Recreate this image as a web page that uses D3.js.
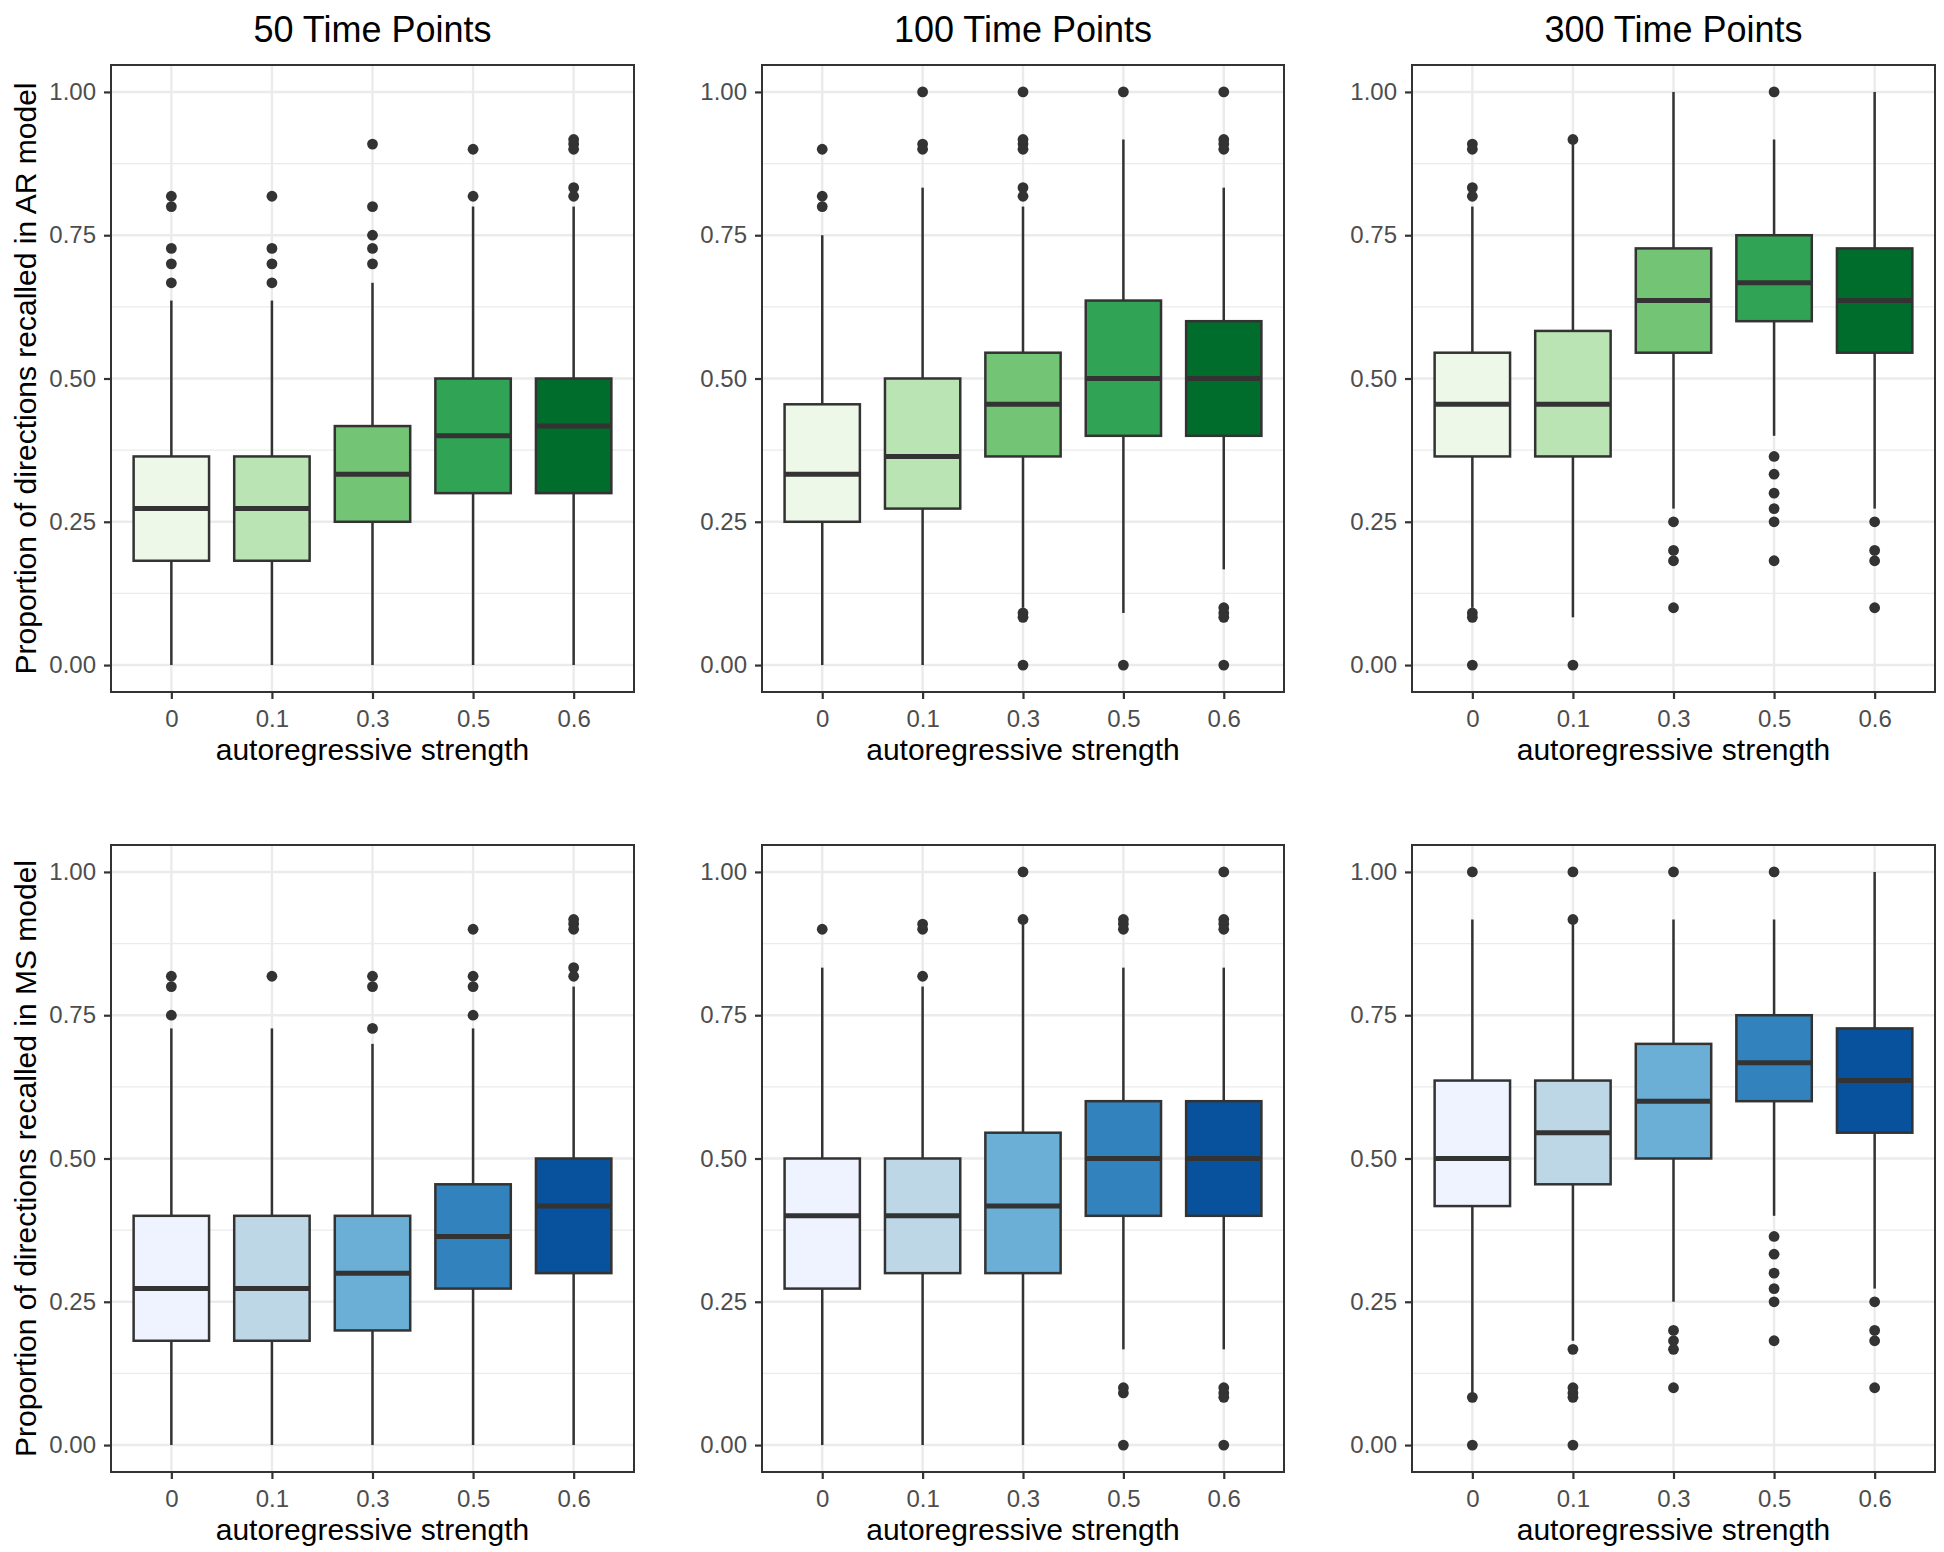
<!DOCTYPE html>
<html>
<head>
<meta charset="utf-8">
<script src="https://cdn.jsdelivr.net/npm/d3@7"></script>
<style>
  html, body { margin: 0; padding: 0; background: #ffffff; }
  svg { display: block; font-family: "Liberation Sans", Arial, sans-serif; }
</style>
</head>
<body>
<svg id="chart" width="1944" height="1552"></svg>
<script>
// ---------------- DATA ----------------
const categories = ["0", "0.1", "0.3", "0.5", "0.6"];
const columnTitles = ["50 Time Points", "100 Time Points", "300 Time Points"];
const rowYTitles = ["Proportion of directions recalled in AR model", "Proportion of directions recalled in MS model"];
const xAxisTitle = "autoregressive strength";
const yTicks = [0, 0.25, 0.5, 0.75, 1];
const yTickLabels = ["0.00", "0.25", "0.50", "0.75", "1.00"];
const yMinorTicks = [0.125, 0.375, 0.625, 0.875];
const greens = ["#EDF8E9", "#BAE4B3", "#74C476", "#31A354", "#006D2C"];
const blues = ["#EFF3FF", "#BDD7E7", "#6BAED6", "#3182BD", "#08519C"];

// each box: [lower whisker, Q1, median, Q3, upper whisker]
const ar50Stats = [
  [0, 0.182, 0.273, 0.364, 0.636],
  [0, 0.182, 0.273, 0.364, 0.636],
  [0, 0.25, 0.333, 0.417, 0.667],
  [0, 0.3, 0.4, 0.5, 0.8],
  [0, 0.3, 0.417, 0.5, 0.8]
];
const ar50Outliers = [
  [0.667, 0.7, 0.727, 0.8, 0.818],
  [0.667, 0.7, 0.727, 0.818],
  [0.7, 0.727, 0.75, 0.8, 0.909],
  [0.818, 0.9],
  [0.818, 0.833, 0.9, 0.909, 0.917]
];
const ar100Stats = [
  [0, 0.25, 0.333, 0.455, 0.75],
  [0, 0.273, 0.364, 0.5, 0.833],
  [0.1, 0.364, 0.455, 0.545, 0.8],
  [0.0909, 0.4, 0.5, 0.636, 0.917],
  [0.167, 0.4, 0.5, 0.6, 0.833]
];
const ar100Outliers = [
  [0.8, 0.818, 0.9],
  [0.9, 0.909, 1.0],
  [0, 0.0833, 0.0909, 0.818, 0.833, 0.9, 0.909, 0.917, 1.0],
  [0, 1.0],
  [0, 0.0833, 0.0909, 0.1, 0.9, 0.909, 0.917, 1.0]
];
const ar300Stats = [
  [0.1, 0.364, 0.455, 0.545, 0.8],
  [0.0833, 0.364, 0.455, 0.583, 0.909],
  [0.273, 0.545, 0.636, 0.727, 1.0],
  [0.4, 0.6, 0.667, 0.75, 0.917],
  [0.273, 0.545, 0.636, 0.727, 1.0]
];
const ar300Outliers = [
  [0, 0.0833, 0.0909, 0.818, 0.833, 0.9, 0.909],
  [0, 0.917],
  [0.1, 0.182, 0.2, 0.25],
  [0.182, 0.25, 0.273, 0.3, 0.333, 0.364, 1.0],
  [0.1, 0.182, 0.2, 0.25]
];
const ms50Stats = [
  [0, 0.182, 0.273, 0.4, 0.727],
  [0, 0.182, 0.273, 0.4, 0.727],
  [0, 0.2, 0.3, 0.4, 0.7],
  [0, 0.273, 0.364, 0.455, 0.727],
  [0, 0.3, 0.417, 0.5, 0.8]
];
const ms50Outliers = [
  [0.75, 0.8, 0.818],
  [0.818],
  [0.727, 0.8, 0.818],
  [0.75, 0.8, 0.818, 0.9],
  [0.818, 0.833, 0.9, 0.909, 0.917]
];
const ms100Stats = [
  [0, 0.273, 0.4, 0.5, 0.833],
  [0, 0.3, 0.4, 0.5, 0.8],
  [0, 0.3, 0.417, 0.545, 0.909],
  [0.167, 0.4, 0.5, 0.6, 0.833],
  [0.167, 0.4, 0.5, 0.6, 0.833]
];
const ms100Outliers = [
  [0.9],
  [0.818, 0.9, 0.909],
  [0.917, 1.0],
  [0, 0.0909, 0.1, 0.9, 0.909, 0.917],
  [0, 0.0833, 0.0909, 0.1, 0.9, 0.909, 0.917, 1.0]
];
const ms300Stats = [
  [0.0909, 0.417, 0.5, 0.636, 0.917],
  [0.182, 0.455, 0.545, 0.636, 0.909],
  [0.25, 0.5, 0.6, 0.7, 0.917],
  [0.4, 0.6, 0.667, 0.75, 0.917],
  [0.273, 0.545, 0.636, 0.727, 1.0]
];
const ms300Outliers = [
  [0, 0.0833, 1.0],
  [0, 0.0833, 0.0909, 0.1, 0.167, 0.917, 1.0],
  [0.1, 0.167, 0.182, 0.2, 1.0],
  [0.182, 0.25, 0.273, 0.3, 0.333, 0.364, 1.0],
  [0.1, 0.182, 0.2, 0.25]
];

// ---------------- LAYOUT ----------------
const colExtents = [[111, 634], [762, 1284], [1412, 1935]];
const rowExtents = [[65, 692], [845, 1472]];

const panels = [
  { row: 0, col: 0, stats: ar50Stats, outliers: ar50Outliers, fills: greens },
  { row: 0, col: 1, stats: ar100Stats, outliers: ar100Outliers, fills: greens },
  { row: 0, col: 2, stats: ar300Stats, outliers: ar300Outliers, fills: greens },
  { row: 1, col: 0, stats: ms50Stats, outliers: ms50Outliers, fills: blues },
  { row: 1, col: 1, stats: ms100Stats, outliers: ms100Outliers, fills: blues },
  { row: 1, col: 2, stats: ms300Stats, outliers: ms300Outliers, fills: blues }
];

const svg = d3.select("#chart");
const dark = "#333333";
const gridCol = "#EBEBEB";
const tickCol = "#4D4D4D";
const fontFam = "Liberation Sans, Arial, sans-serif";

panels.forEach(p => {
  const [x0, x1] = colExtents[p.col];
  const [y0, y1] = rowExtents[p.row];
  const x = d3.scalePoint().domain(categories).range([x0, x1]).padding(0.6);
  const y = d3.scaleLinear().domain([-0.047, 1.047]).range([y1, y0]);
  const bw = x.step() * 0.75;
  const g = svg.append("g");

  g.append("rect").attr("x", x0).attr("y", y0).attr("width", x1 - x0).attr("height", y1 - y0)
    .attr("fill", "#ffffff");

  // minor grid
  g.selectAll(".minor").data(yMinorTicks).join("line")
    .attr("x1", x0).attr("x2", x1).attr("y1", d => y(d)).attr("y2", d => y(d))
    .attr("stroke", gridCol).attr("stroke-width", 1.2);
  // major grid
  g.selectAll(".majorY").data(yTicks).join("line")
    .attr("x1", x0).attr("x2", x1).attr("y1", d => y(d)).attr("y2", d => y(d))
    .attr("stroke", gridCol).attr("stroke-width", 2.4);
  g.selectAll(".majorX").data(categories).join("line")
    .attr("x1", d => x(d)).attr("x2", d => x(d)).attr("y1", y0).attr("y2", y1)
    .attr("stroke", gridCol).attr("stroke-width", 2.4);

  // boxplots
  categories.forEach((c, i) => {
    const [lo, q1, med, q3, hi] = p.stats[i];
    const cx = x(c);
    const bx = g.append("g");
    bx.append("line").attr("x1", cx).attr("x2", cx).attr("y1", y(q3)).attr("y2", y(hi))
      .attr("stroke", dark).attr("stroke-width", 2.5);
    bx.append("line").attr("x1", cx).attr("x2", cx).attr("y1", y(q1)).attr("y2", y(lo))
      .attr("stroke", dark).attr("stroke-width", 2.5);
    bx.append("rect").attr("x", cx - bw / 2).attr("y", y(q3)).attr("width", bw)
      .attr("height", y(q1) - y(q3)).attr("fill", p.fills[i])
      .attr("stroke", dark).attr("stroke-width", 2.5);
    bx.append("line").attr("x1", cx - bw / 2).attr("x2", cx + bw / 2)
      .attr("y1", y(med)).attr("y2", y(med))
      .attr("stroke", dark).attr("stroke-width", 5);
    bx.selectAll("circle").data(p.outliers[i]).join("circle")
      .attr("cx", cx).attr("cy", d => y(d)).attr("r", 5.4).attr("fill", dark);
  });

  // panel border
  g.append("rect").attr("x", x0).attr("y", y0).attr("width", x1 - x0).attr("height", y1 - y0)
    .attr("fill", "none").attr("stroke", dark).attr("stroke-width", 2);

  // y axis
  const yAxis = d3.axisLeft(y).tickValues(yTicks)
    .tickFormat((d, i) => yTickLabels[i]).tickSize(7).tickPadding(8);
  const ya = svg.append("g").attr("transform", `translate(${x0},0)`).call(yAxis);
  ya.select(".domain").remove();
  ya.selectAll(".tick line").attr("stroke", dark).attr("stroke-width", 2.2);
  ya.selectAll(".tick text").attr("fill", tickCol)
    .style("font-size", "24px").style("font-family", fontFam);

  // x axis
  const xAxis = d3.axisBottom(x).tickSize(7).tickPadding(11);
  const xa = svg.append("g").attr("transform", `translate(0,${y1})`).call(xAxis);
  xa.select(".domain").remove();
  xa.selectAll(".tick line").attr("stroke", dark).attr("stroke-width", 2.2);
  xa.selectAll(".tick text").attr("fill", tickCol)
    .style("font-size", "24px").style("font-family", fontFam);

  // x axis title
  svg.append("text").attr("x", (x0 + x1) / 2).attr("y", y1 + 68)
    .attr("text-anchor", "middle").attr("fill", "#000")
    .style("font-size", "30px").text(xAxisTitle);

  if (p.row === 0) {
    svg.append("text").attr("x", (x0 + x1) / 2).attr("y", 42)
      .attr("text-anchor", "middle").attr("fill", "#000")
      .style("font-size", "36px").text(columnTitles[p.col]);
  }
  if (p.col === 0) {
    svg.append("text")
      .attr("transform", `translate(36,${(y0 + y1) / 2}) rotate(-90)`)
      .attr("text-anchor", "middle").attr("fill", "#000")
      .style("font-size", "30px").text(rowYTitles[p.row]);
  }
});
</script>
</body>
</html>
